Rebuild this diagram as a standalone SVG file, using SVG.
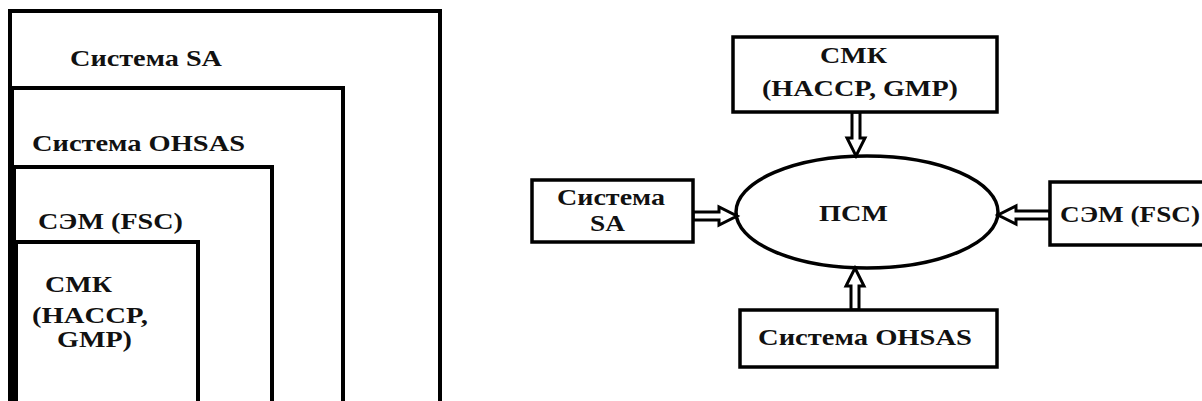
<svg xmlns="http://www.w3.org/2000/svg" width="1202" height="401" viewBox="0 0 1202 401">
<style>
  .box { fill: none; stroke: #000; stroke-width: 4; }
  .rbox { fill: #fff; stroke: #000; stroke-width: 3.5; }
  .t { font-family: "Liberation Serif", "Times New Roman", serif; font-weight: bold; font-size: 24px; fill: #111; }
  .arr { fill: #fff; stroke: #000; stroke-width: 3; stroke-linejoin: miter; }
</style>
<rect x="0" y="0" width="1202" height="401" fill="#fff"/>

<!-- Left: nested systems -->
<g id="left-sa">
  <rect class="box" x="10" y="11" width="430" height="420"/>
  <text class="t" x="70" y="66" textLength="152" lengthAdjust="spacingAndGlyphs">Система SA</text>
</g>
<g id="left-ohsas">
  <rect class="box" x="12" y="88" width="331" height="340"/>
  <text class="t" x="32" y="151" textLength="213" lengthAdjust="spacingAndGlyphs">Система OHSAS</text>
</g>
<g id="left-fsc">
  <rect class="box" x="14" y="167" width="258" height="260"/>
  <text class="t" x="38" y="229" textLength="145" lengthAdjust="spacingAndGlyphs">СЭМ (FSC)</text>
</g>
<g id="left-smk">
  <rect class="box" x="16" y="242" width="182" height="190"/>
  <text class="t" x="45" y="292" textLength="67" lengthAdjust="spacingAndGlyphs">СМК</text>
  <text class="t" x="32" y="323" textLength="116" lengthAdjust="spacingAndGlyphs">(HACCP,</text>
  <text class="t" x="57" y="347" textLength="75" lengthAdjust="spacingAndGlyphs">GMP)</text>
</g>

<!-- Right: connectors -->
<g id="connectors">
  <polygon class="arr" points="852,112 852,138 847,138 856,156 865,138 860,138 860,112"/>
  <polygon class="arr" points="851,310 851,286 846,286 855,268 864,286 859,286 859,310"/>
  <polygon class="arr" points="693,212 719,212 719,207 737,216 719,225 719,220 693,220"/>
  <polygon class="arr" points="1050,211 1016,211 1016,206 998,215 1016,224 1016,219 1050,219"/>
</g>

<!-- Right: nodes -->
<g id="psm">
  <ellipse cx="867" cy="212" rx="131" ry="56" fill="none" stroke="#000" stroke-width="3.5"/>
  <text class="t" x="819" y="221" textLength="69" lengthAdjust="spacingAndGlyphs">ПСМ</text>
</g>
<g id="smk">
  <rect class="rbox" x="733" y="37" width="264" height="75"/>
  <text class="t" x="820" y="63" textLength="67" lengthAdjust="spacingAndGlyphs">СМК</text>
  <text class="t" x="762" y="96" textLength="196" lengthAdjust="spacingAndGlyphs">(HACCP, GMP)</text>
</g>
<g id="sa">
  <rect class="rbox" x="532" y="180" width="161" height="62"/>
  <text class="t" x="557" y="205" textLength="108" lengthAdjust="spacingAndGlyphs">Система</text>
  <text class="t" x="590" y="231" textLength="35" lengthAdjust="spacingAndGlyphs">SA</text>
</g>
<g id="fsc">
  <rect class="rbox" x="1050" y="182" width="170" height="63"/>
  <text class="t" x="1060" y="222" textLength="140" lengthAdjust="spacingAndGlyphs">СЭМ (FSC)</text>
</g>
<g id="ohsas">
  <rect class="rbox" x="740" y="310" width="257" height="57"/>
  <text class="t" x="758" y="345" textLength="214" lengthAdjust="spacingAndGlyphs">Система OHSAS</text>
</g>
</svg>
